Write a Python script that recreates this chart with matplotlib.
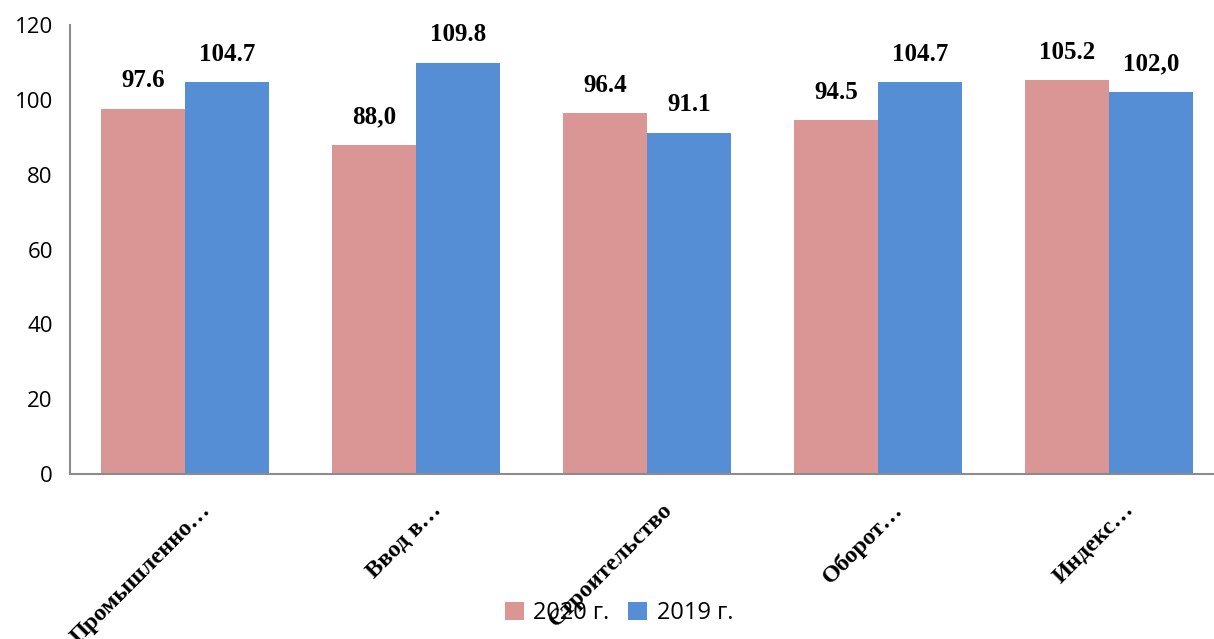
import matplotlib.pyplot as plt
import matplotlib.transforms as mtransforms
import numpy as np

# данные
categories = ['Промышленно…', 'Ввод в…', 'Строительство', 'Оборот…', 'Индекс…']
vals_2020 = [97.6, 88.0, 96.4, 94.5, 105.2]
vals_2019 = [104.7, 109.8, 91.1, 104.7, 102.0]
lbl_2020 = ['97.6', '88,0', '96.4', '94.5', '105.2']
lbl_2019 = ['104.7', '109.8', '91.1', '104.7', '102,0']

fig = plt.figure(figsize=(12.14, 6.39), dpi=100)
ax = fig.add_axes([69.5 / 1214, 1 - 474 / 639, 1155 / 1214, (474 - 25) / 639])

x = np.arange(len(categories))
w = 0.364
b1 = ax.bar(x - w / 2, vals_2020, w, color='#D99694', label='2020 г.')
b2 = ax.bar(x + w / 2, vals_2019, w, color='#558ED5', label='2019 г.')

for bars, labels in ((b1, lbl_2020), (b2, lbl_2019)):
    for r, t in zip(bars, labels):
        ax.annotate(t, (r.get_x() + r.get_width() / 2, r.get_height()),
                    xytext=(0, 12), textcoords='offset points',
                    ha='center', va='bottom', fontsize=18, fontweight='bold',
                    family='Liberation Serif')

ax.set_xlim(-0.5, 4.5)
ax.set_ylim(0, 120)
ax.set_yticks([0, 20, 40, 60, 80, 100, 120])
ax.tick_params(axis='y', length=0, labelsize=16, pad=12)
for t in ax.get_yticklabels():
    t.set_family('Open Sans')

ax.set_xticks(x)
ax.set_xticklabels(categories, rotation=45, ha='right', va='center',
                   rotation_mode='anchor', fontsize=17.5, fontweight='bold',
                   family='Liberation Serif')
ax.tick_params(axis='x', length=0)
offset = mtransforms.ScaledTranslation(0.22, -0.28, fig.dpi_scale_trans)
for t in ax.get_xticklabels():
    t.set_transform(t.get_transform() + offset)

for s in ['top', 'right']:
    ax.spines[s].set_visible(False)
ax.spines['left'].set_color('#8c8c8c')
ax.spines['bottom'].set_color('#8c8c8c')
ax.spines['left'].set_linewidth(1.5)
ax.spines['bottom'].set_linewidth(1.5)

leg = fig.legend(loc='center', bbox_to_anchor=(619 / 1214, 1 - 613 / 639), ncol=2,
                 frameon=False, prop={'family': 'Open Sans', 'size': 17},
                 handlelength=0.8, handleheight=0.8, handletextpad=0.4,
                 columnspacing=0.8)

fig.savefig('out.png', dpi=100)
